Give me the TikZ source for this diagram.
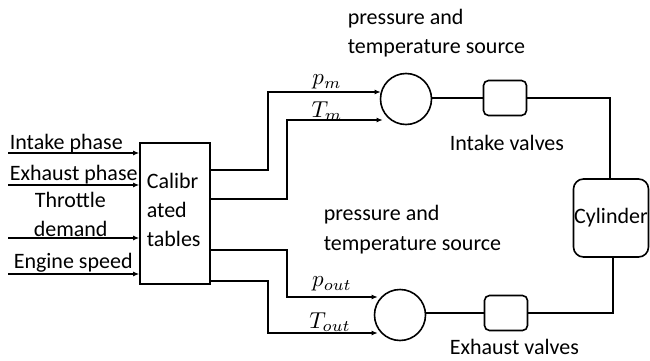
\documentclass[tikz,border=0pt]{standalone}
\usepackage{graphicx}
\usepackage{fontspec}
\setmainfont{Carlito}
\usetikzlibrary{arrows.meta}
\begin{document}
\begin{tikzpicture}[x=1pt,y=-1pt, line width=1.6pt,
  txt/.style={font=\fontsize{22}{26}\selectfont, inner sep=0pt, anchor=base west},
  lbl/.style={inner sep=0pt},
  arr/.style={-{Latex[length=6pt,width=5pt]}},
  src/.style={draw, circle, minimum size=51pt, inner sep=0pt},
  valve/.style={draw, rounded corners=5pt, minimum width=43pt, minimum height=35pt, inner sep=0pt},
  ]
\useasboundingbox (0,0) rectangle (650,361);
% calibrated tables
\node[draw, minimum width=70pt, minimum height=141pt, inner sep=0pt] (cal) at (175,213.5) {};
\node[txt] (cal1) at (146,188) {Calibr};
\node[txt] (cal2) at (146,217) {ated};
\node[txt] (cal3) at (146,246) {tables};
% inputs
\node[txt] (l1) at (9,149) {Intake phase};
\node[txt] (l2) at (9,180) {Exhaust phase};
\node[txt] (l3a) at (34,207) {Throttle};
\node[txt] (l3b) at (33,236) {demand};
\node[txt] (l4) at (13,268) {Engine speed};
\coordinate (i1) at (8,153);
\coordinate (i2) at (8,185);
\coordinate (i3) at (8,238);
\coordinate (i4) at (8,274);
\draw[arr] (i1) -- (i1 -| cal.west);
\draw[arr] (i2) -- (i2 -| cal.west);
\draw[arr] (i3) -- (i3 -| cal.west);
\draw[arr] (i4) -- (i4 -| cal.west);
% sources
\node[src] (c1) at (406,99) {};
\node[src] (c2) at (400,315) {};
% valves
\node[valve] (v1) at (505,98) {};
\node[valve] (v2) at (506,313) {};
% cylinder
\node[draw, rounded corners=10pt, minimum width=75pt, minimum height=78pt, inner sep=0pt, font=\fontsize{22}{26}\selectfont] (cyl) at (611,218) {Cylinder};
% texts
\node[txt] (t1) at (347,25) {pressure and};
\node[txt] (t2) at (347,53) {temperature source};
\node[txt] (t3) at (449,150) {Intake valves};
\node[txt] (t4) at (323,220) {pressure and};
\node[txt] (t5) at (323,250) {temperature source};
\node[txt] (t6) at (449,354) {Exhaust valves};
% math labels
\node[lbl] (pm) at (327,82) {\scalebox{2.3}{$p_m$}};
\node[lbl] (tm) at (327,111) {\scalebox{2.3}{$T_m$}};
\node[lbl] (po) at (332,284) {\scalebox{2.3}{$p_{out}$}};
\node[lbl] (to) at (330,322) {\scalebox{2.3}{$T_{out}$}};
% outputs
\draw[arr] (cal.east |- 0,170) -| (268,92) -- ([xshift=1pt]c1.west |- 0,92);
\draw[arr] (cal.east |- 0,199) -| (287,120) -- ([xshift=3pt]c1.west |- 0,120);
\draw[arr] (cal.east |- 0,250) -| (287,297) -- ([xshift=4pt]c2.west |- 0,297);
\draw[arr] (cal.east |- 0,281) -| (268,333) -- ([xshift=4pt]c2.west |- 0,333);
% chain
\draw (v1.west) -- (v1.west -| c1.east);
\draw (v1.east) -| (610,0 |- cyl.north);
\draw (v2.west) -- (v2.west -| c2.east);
\draw (v2.east) -| (613,0 |- cyl.south);
\end{tikzpicture}
\end{document}
